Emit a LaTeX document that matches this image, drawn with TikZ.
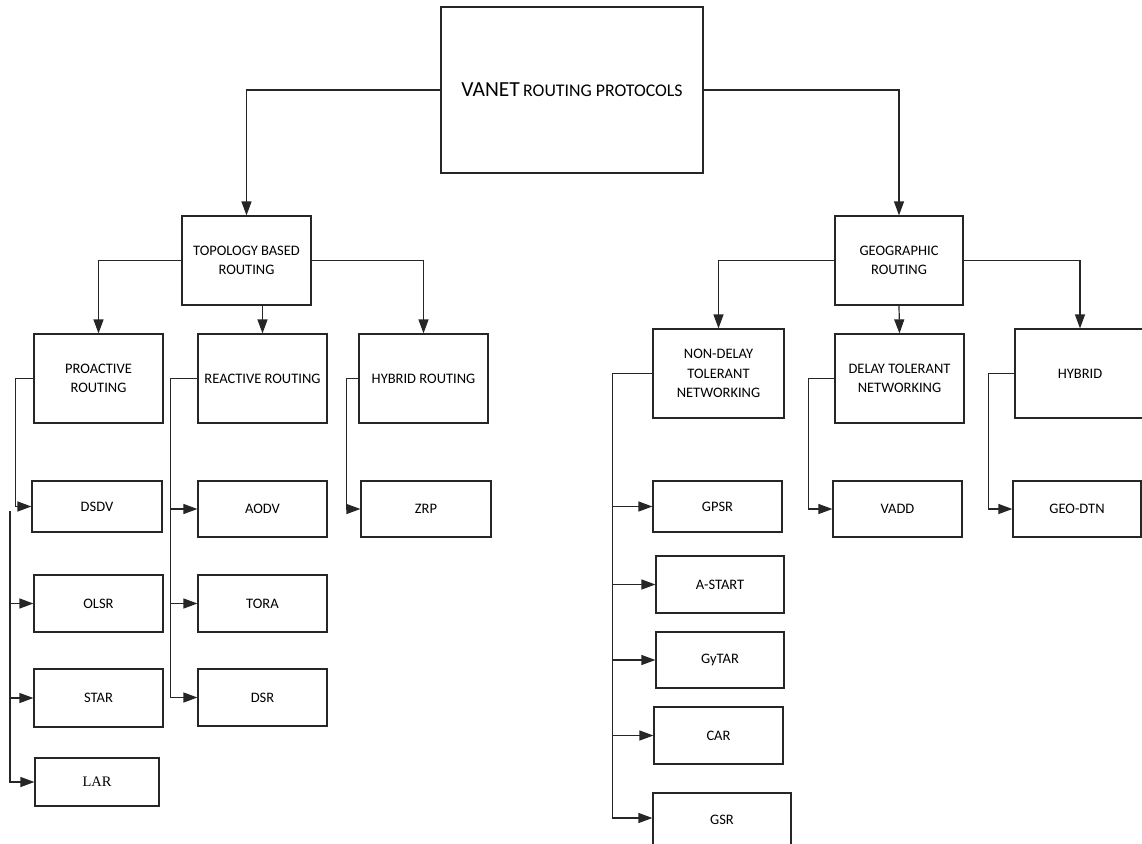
\documentclass[tikz,border=0pt]{standalone}
\usepackage{fontspec}
\setmainfont{Carlito}
\newfontfamily\serifx{Liberation Serif}
\usetikzlibrary{arrows.meta}
\tikzset{
  box/.style={draw=black!85, line width=1.2pt, inner sep=0pt, align=center,
    font=\fontsize{14.5}{19.5}\selectfont},
  arr/.style={draw=black!85, line width=1.2pt, -{Triangle[length=14pt,width=10pt]}},
  ln/.style={draw=black!85, line width=1.2pt}
}
\newcommand{\bx}[6]{% name, x1, y1, x2, y2, text
  \node[box, minimum width={(#4-#2)*1pt}, minimum height={(#5-#3)*1pt}] (#1) at ({(#2+#4)/2},{(#3+#5)/2}) {#6};}
\begin{document}
\begin{tikzpicture}[x=1pt,y=-1pt]
\useasboundingbox (0,0) rectangle (1142,843);
\clip (0,0) rectangle (1142,843);
\fill[white] (0,0) rectangle (1142,843);
% boxes
\bx{root}{441}{7}{703}{173}{{\fontsize{21.5}{25}\selectfont VANET} {\fontsize{17.8}{21}\selectfont ROUTING PROTOCOLS}}
\bx{topo}{182}{216}{311}{305}{TOPOLOGY BASED\\ROUTING}
\bx{geo}{835}{216}{963}{305}{GEOGRAPHIC\\ROUTING}
\bx{pro}{34}{334}{163}{423}{PROACTIVE\\ROUTING}
\bx{rea}{198}{334}{327}{423}{REACTIVE ROUTING}
\bx{hyr}{359}{334}{488}{423}{HYBRID ROUTING}
\bx{nd}{653}{329}{784}{418}{NON-DELAY\\TOLERANT\\NETWORKING}
\bx{dt}{835}{334}{964}{423}{DELAY TOLERANT\\NETWORKING}
\bx{hy}{1015}{329}{1145}{418}{HYBRID}
\bx{dsdv}{32}{481}{162}{532}{DSDV}
\bx{olsr}{34}{575}{163}{632}{OLSR}
\bx{star}{34}{669}{163}{727}{STAR}
\bx{lar}{35}{758}{159}{806}{{\serifx LAR}}
\bx{aodv}{198}{481}{327}{537}{AODV}
\bx{tora}{198}{575}{327}{632}{TORA}
\bx{dsr}{198}{669}{327}{726}{DSR}
\bx{zrp}{361}{481}{491}{537}{ZRP}
\bx{gpsr}{653}{481}{782}{532}{GPSR}
\bx{astart}{656}{556}{784}{613}{A-START}
\bx{gytar}{656}{632}{784}{688}{GyTAR}
\bx{car}{654}{707}{783}{764}{CAR}
\bx{gsr}{653}{793}{791}{847}{GSR}
\bx{vadd}{833}{481}{962}{537}{VADD}
\bx{geodtn}{1013}{481}{1141}{537}{GEO-DTN}
% top level
\draw[arr] (root.west) -| (topo.north);
\draw[arr] (root.east) -| (geo.north);
% topology
\draw[arr] (topo.west) -| (pro.north);
\draw[arr] (rea.north |- topo.south) -- (rea.north);
\draw[arr] (topo.east) -| (hyr.north);
% geographic
\draw[arr] (geo.west) -| (nd.north);
\draw[arr] (geo.south) -- (dt.north);
\draw[arr] (geo.east) -| (hy.north);
% proactive
\draw[arr] (pro.west) -- ([xshift=-18pt]pro.west) |- (dsdv.west);
\coordinate (pb) at (10,511);
\draw[arr] (pb) |- (lar.west);
\draw[arr] (pb |- olsr.west) -- (olsr.west);
\draw[arr] (pb |- star.west) -- (star.west);
% reactive
\draw[arr] (rea.west) -- ([xshift=-27pt]rea.west) |- (dsr.west);
\draw[arr] ([xshift=-27pt]rea.west |- aodv.west) -- (aodv.west);
\draw[arr] ([xshift=-27pt]rea.west |- tora.west) -- (tora.west);
% hybrid routing
\draw[arr] (hyr.west) -- ([xshift=-12pt]hyr.west) |- (zrp.west);
% non-delay
\draw[arr] (nd.west) -- ([xshift=-40pt]nd.west) |- ([yshift=2pt]gsr.west);
\draw[arr] ([xshift=-40pt]nd.west |- gpsr.west) -- (gpsr.west);
\draw[arr] ([xshift=-40pt]nd.west |- astart.west) -- (astart.west);
\draw[arr] ([xshift=-40pt]nd.west |- gytar.west) -- (gytar.west);
\draw[arr] ([xshift=-40pt]nd.west |- car.west) -- (car.west);
% delay tolerant
\draw[arr] (dt.west) -- ([xshift=-26pt]dt.west) |- (vadd.west);
% hybrid
\draw[arr] (hy.west) -- ([xshift=-26pt]hy.west) |- (geodtn.west);
\end{tikzpicture}
\end{document}
